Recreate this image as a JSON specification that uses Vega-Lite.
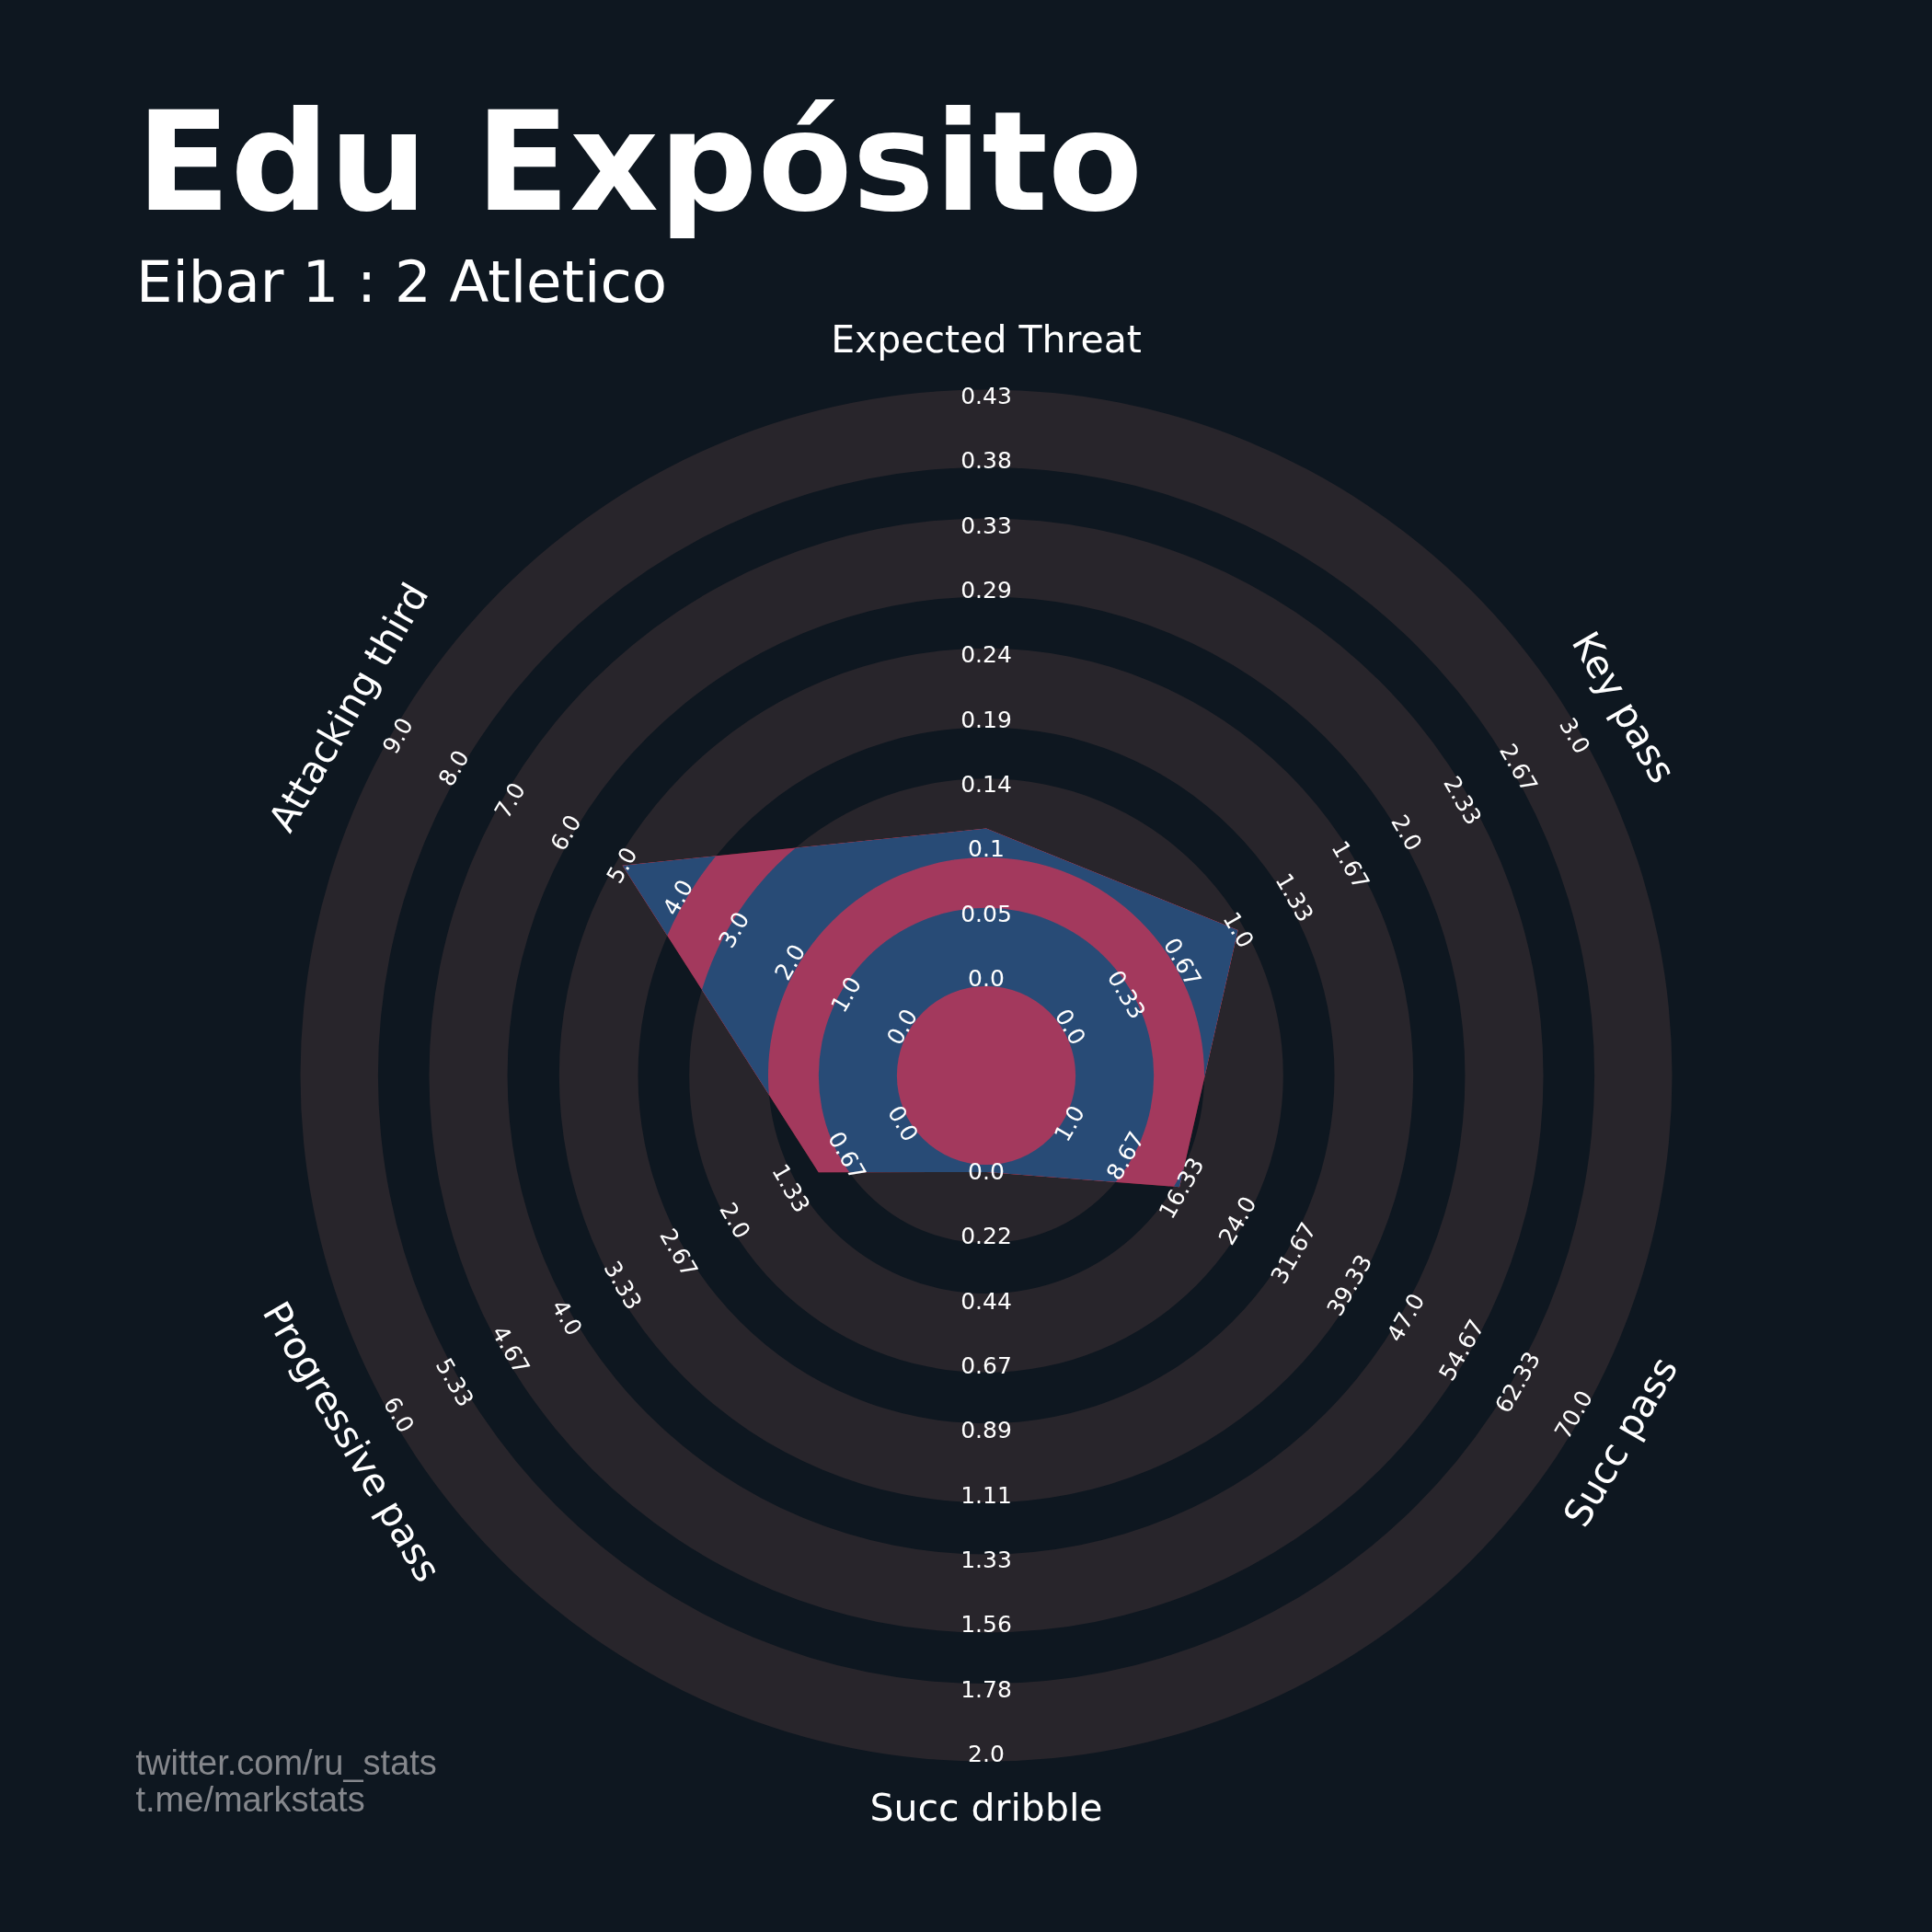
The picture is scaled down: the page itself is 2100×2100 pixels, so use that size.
{
  "$schema": "https://vega.github.io/schema/vega-lite/v6.json",
  "width": 2100,
  "height": 1520,
  "autosize": {"type": "none"},
  "padding": {"left": 0, "right": 0, "top": 380, "bottom": 200},
  "background": "#0e1720",
  "config": {"view": {"stroke": null, "fill": null}},
  "title": {
    "text": "Edu Expósito",
    "subtitle": "Eibar 1 : 2 Atletico",
    "anchor": "start",
    "frame": "group",
    "orient": "top",
    "dx": 148,
    "offset": 8,
    "font": "DejaVu Sans",
    "fontSize": 150,
    "fontWeight": "bold",
    "color": "#ffffff",
    "subtitleFont": "DejaVu Sans",
    "subtitleFontSize": 62.5,
    "subtitleFontWeight": "normal",
    "subtitleColor": "#ffffff",
    "subtitlePadding": 20
  },
  "datasets": {
    "params": [
      {"param": "Expected Threat", "idx": 0, "min": 0, "max": 0.43, "value": 0.111},
      {"param": "Key pass", "idx": 1, "min": 0, "max": 3, "value": 1},
      {"param": "Succ pass", "idx": 2, "min": 1, "max": 70, "value": 16},
      {"param": "Succ dribble", "idx": 3, "min": 0, "max": 2, "value": 0},
      {"param": "Progressive pass", "idx": 4, "min": 0, "max": 6, "value": 1},
      {"param": "Attacking third", "idx": 5, "min": 0, "max": 9, "value": 5}
    ],
    "rings": [
      {"ring": 1, "inner": 1.38, "outer": 2.59},
      {"ring": 2, "inner": 3.37, "outer": 4.59},
      {"ring": 3, "inner": 5.38, "outer": 6.6},
      {"ring": 4, "inner": 7.4, "outer": 8.61},
      {"ring": 5, "inner": 9.4, "outer": 10.6}
    ],
    "ticks": [
      {"idx": 0, "k": 0, "label": "0.0"}, {"idx": 0, "k": 1, "label": "0.05"}, {"idx": 0, "k": 2, "label": "0.1"}, {"idx": 0, "k": 3, "label": "0.14"}, {"idx": 0, "k": 4, "label": "0.19"},
      {"idx": 0, "k": 5, "label": "0.24"}, {"idx": 0, "k": 6, "label": "0.29"}, {"idx": 0, "k": 7, "label": "0.33"}, {"idx": 0, "k": 8, "label": "0.38"}, {"idx": 0, "k": 9, "label": "0.43"},
      {"idx": 1, "k": 0, "label": "0.0"}, {"idx": 1, "k": 1, "label": "0.33"}, {"idx": 1, "k": 2, "label": "0.67"}, {"idx": 1, "k": 3, "label": "1.0"}, {"idx": 1, "k": 4, "label": "1.33"},
      {"idx": 1, "k": 5, "label": "1.67"}, {"idx": 1, "k": 6, "label": "2.0"}, {"idx": 1, "k": 7, "label": "2.33"}, {"idx": 1, "k": 8, "label": "2.67"}, {"idx": 1, "k": 9, "label": "3.0"},
      {"idx": 2, "k": 0, "label": "1.0"}, {"idx": 2, "k": 1, "label": "8.67"}, {"idx": 2, "k": 2, "label": "16.33"}, {"idx": 2, "k": 3, "label": "24.0"}, {"idx": 2, "k": 4, "label": "31.67"},
      {"idx": 2, "k": 5, "label": "39.33"}, {"idx": 2, "k": 6, "label": "47.0"}, {"idx": 2, "k": 7, "label": "54.67"}, {"idx": 2, "k": 8, "label": "62.33"}, {"idx": 2, "k": 9, "label": "70.0"},
      {"idx": 3, "k": 0, "label": "0.0"}, {"idx": 3, "k": 1, "label": "0.22"}, {"idx": 3, "k": 2, "label": "0.44"}, {"idx": 3, "k": 3, "label": "0.67"}, {"idx": 3, "k": 4, "label": "0.89"},
      {"idx": 3, "k": 5, "label": "1.11"}, {"idx": 3, "k": 6, "label": "1.33"}, {"idx": 3, "k": 7, "label": "1.56"}, {"idx": 3, "k": 8, "label": "1.78"}, {"idx": 3, "k": 9, "label": "2.0"},
      {"idx": 4, "k": 0, "label": "0.0"}, {"idx": 4, "k": 1, "label": "0.67"}, {"idx": 4, "k": 2, "label": "1.33"}, {"idx": 4, "k": 3, "label": "2.0"}, {"idx": 4, "k": 4, "label": "2.67"},
      {"idx": 4, "k": 5, "label": "3.33"}, {"idx": 4, "k": 6, "label": "4.0"}, {"idx": 4, "k": 7, "label": "4.67"}, {"idx": 4, "k": 8, "label": "5.33"}, {"idx": 4, "k": 9, "label": "6.0"},
      {"idx": 5, "k": 0, "label": "0.0"}, {"idx": 5, "k": 1, "label": "1.0"}, {"idx": 5, "k": 2, "label": "2.0"}, {"idx": 5, "k": 3, "label": "3.0"}, {"idx": 5, "k": 4, "label": "4.0"},
      {"idx": 5, "k": 5, "label": "5.0"}, {"idx": 5, "k": 6, "label": "6.0"}, {"idx": 5, "k": 7, "label": "7.0"}, {"idx": 5, "k": 8, "label": "8.0"}, {"idx": 5, "k": 9, "label": "9.0"}
    ]
  },
  "layer": [
    {
      "data": {"name": "rings"},
      "mark": {"type": "arc", "theta": 0, "theta2": 6.283185307179586, "fill": "#28252b", "strokeWidth": 0},
      "encoding": {
        "x": {
          "datum": 0, "type": "quantitative",
          "scale": {"domain": [-15.2424, 14.6168], "nice": false, "zero": false},
          "axis": {
            "title": ["twitter.com/ru_stats", "t.me/markstats"],
            "titleAnchor": "start", "titleAlign": "left", "titleBaseline": "alphabetic",
            "titleX": 147, "titleY": 28,
            "titleFont": "Liberation Sans", "titleFontSize": 38, "titleFontWeight": "normal",
            "titleColor": "#85878c", "titleLineHeight": 40,
            "labels": false, "ticks": false, "domain": false, "grid": false
          }
        },
        "y": {
          "datum": 0, "type": "quantitative",
          "scale": {"domain": [-10.3939, 11.2184], "nice": false, "zero": false},
          "axis": null
        },
        "radius": {"field": "outer", "type": "quantitative", "scale": {"type": "linear", "domain": [0, 10], "range": [0, 703.3], "zero": true, "nice": false}},
        "radius2": {"field": "inner"}
      }
    },
    {
      "data": {"name": "params"},
      "transform": [
        {"calculate": "9*(datum.value-datum.min)/(datum.max-datum.min)+1.493", "as": "rho"},
        {"calculate": "datum.rho*sin(datum.idx*PI/3)", "as": "x"},
        {"calculate": "datum.rho*cos(datum.idx*PI/3)", "as": "y"}
      ],
      "mark": {"type": "line", "interpolate": "linear-closed", "filled": true, "fill": "#c94e98", "strokeWidth": 0, "strokeOpacity": 0, "blend": "color-dodge"},
      "encoding": {
        "x": {"field": "x", "type": "quantitative"},
        "y": {"field": "y", "type": "quantitative"},
        "order": {"field": "idx", "type": "quantitative"}
      }
    },
    {
      "data": {"name": "params"},
      "transform": [
        {"calculate": "9*(datum.value-datum.min)/(datum.max-datum.min)+1.493", "as": "rho"},
        {"calculate": "datum.rho*sin(datum.idx*PI/3)", "as": "x"},
        {"calculate": "datum.rho*cos(datum.idx*PI/3)", "as": "y"}
      ],
      "mark": {"type": "line", "interpolate": "linear-closed", "filled": true, "fill": "#e50000", "strokeWidth": 0, "strokeOpacity": 0, "blend": "difference"},
      "encoding": {
        "x": {"field": "x", "type": "quantitative"},
        "y": {"field": "y", "type": "quantitative"},
        "order": {"field": "idx", "type": "quantitative"}
      }
    },
    {
      "data": {"name": "params"},
      "transform": [
        {"calculate": "9*(datum.value-datum.min)/(datum.max-datum.min)+1.493", "as": "rho"},
        {"calculate": "datum.rho*sin(datum.idx*PI/3)", "as": "x"},
        {"calculate": "datum.rho*cos(datum.idx*PI/3)", "as": "y"}
      ],
      "mark": {"type": "line", "interpolate": "linear-closed", "filled": true, "fill": "#001c15", "strokeWidth": 0, "strokeOpacity": 0, "blend": "screen"},
      "encoding": {
        "x": {"field": "x", "type": "quantitative"},
        "y": {"field": "y", "type": "quantitative"},
        "order": {"field": "idx", "type": "quantitative"}
      }
    },
    {
      "data": {"name": "ticks"},
      "transform": [
        {"calculate": "datum.k+1.493", "as": "rho"},
        {"calculate": "datum.rho*sin(datum.idx*PI/3)", "as": "x"},
        {"calculate": "datum.rho*cos(datum.idx*PI/3)", "as": "y"},
        {"calculate": "(datum.idx*60)%180 > 90 ? (datum.idx*60)%180+180 : (datum.idx*60)%180", "as": "angle"}
      ],
      "mark": {"type": "text", "font": "DejaVu Sans", "fontSize": 25, "color": "#ffffff", "align": "center", "baseline": "middle"},
      "encoding": {
        "x": {"field": "x", "type": "quantitative"},
        "y": {"field": "y", "type": "quantitative"},
        "text": {"field": "label", "type": "nominal"},
        "angle": {"field": "angle", "type": "quantitative", "scale": null}
      }
    },
    {
      "data": {"name": "params"},
      "transform": [
        {"calculate": "11.35", "as": "rho"},
        {"calculate": "datum.rho*sin(datum.idx*PI/3)", "as": "x"},
        {"calculate": "datum.rho*cos(datum.idx*PI/3)", "as": "y"},
        {"calculate": "(datum.idx*60)%180 > 90 ? (datum.idx*60)%180+180 : (datum.idx*60)%180", "as": "angle"}
      ],
      "mark": {"type": "text", "font": "DejaVu Sans", "fontSize": 41, "color": "#ffffff", "align": "center", "baseline": "middle"},
      "encoding": {
        "x": {"field": "x", "type": "quantitative"},
        "y": {"field": "y", "type": "quantitative"},
        "text": {"field": "param", "type": "nominal"},
        "angle": {"field": "angle", "type": "quantitative", "scale": null}
      }
    }
  ]
}
